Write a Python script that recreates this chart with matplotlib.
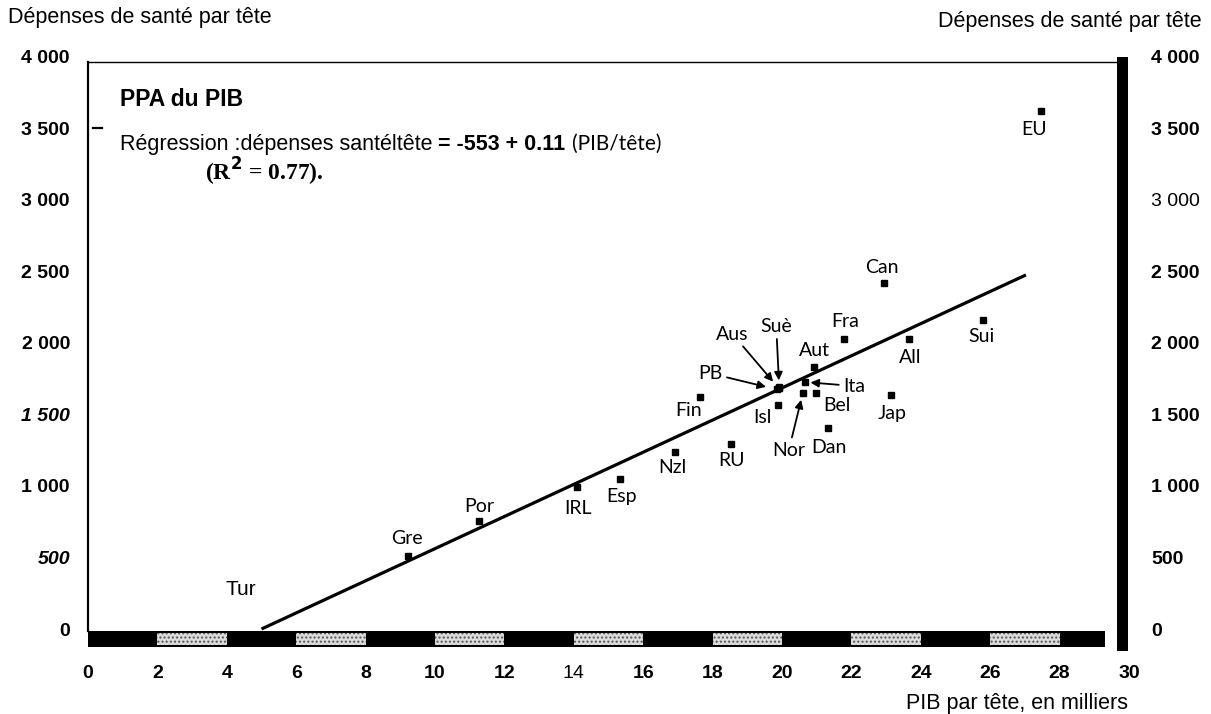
import matplotlib
matplotlib.use("Agg")
import matplotlib.pyplot as plt
from matplotlib.patches import Rectangle

# --- données (PIB en milliers, dépenses par tête) ---
countries = ["EU", "Can", "Sui", "All", "Fra", "Aut", "Ita", "Bel", "Nor", "Dan",
             "Jap", "Isl", "Fin", "PB", "Aus", "Suè", "RU", "Nzl", "Esp", "IRL",
             "Por", "Gre"]
pib = [27.45, 22.94, 25.79, 23.66, 21.79, 20.92, 20.66, 20.98, 20.60, 21.33,
       23.14, 19.88, 17.64, 19.85, 19.90, 19.92, 18.53, 16.92, 15.33, 14.09,
       11.27, 9.22]
depenses = [3622, 2420, 2161, 2028, 2028, 1832, 1727, 1650, 1650, 1406,
            1636, 1566, 1622, 1675, 1685, 1690, 1294, 1238, 1049, 993,
            755, 510]

# droite de régression (extrémités lues)
reg_pib = [5.0, 27.03]
reg_dep = [0, 2476]

x_ticks = list(range(0, 31, 2))
x_tick_labels = [str(v) for v in x_ticks]
y_ticks = [0, 500, 1000, 1500, 2000, 2500, 3000, 3500, 4000]
y_tick_labels = ["0", "500", "1 000", "1 500", "2 000", "2 500", "3 000", "3 500", "4 000"]

# segments pointillés de la barre du bas (début de chaque segment)
stipple_starts = [2, 6, 10, 14, 18, 22, 26]

# décalage des étiquettes (pixels, dx, dy vers le haut) et flèches
label_offsets = {
    "EU": (-6, -18), "Can": (-2, 15), "Sui": (-1, -17), "All": (1, -19),
    "Fra": (1, 17), "Aut": (1, 17), "Ita": (49, -4), "Bel": (21, -12),
    "Nor": (-14, -57), "Dan": (1, -20), "Jap": (1, -18), "Isl": (-15, -12),
    "Fin": (-12, -13), "PB": (-66, 16), "Aus": (-46, 54), "Suè": (-3, 61),
    "RU": (1, -17), "Nzl": (-3, -16), "Esp": (2, -18), "IRL": (1, -21),
    "Por": (0, 15), "Gre": (-1, 18),
}
arrow_labels = {"Ita": 4, "Nor": 5, "PB": 8, "Aus": 6, "Suè": 5}

W, H = 1211, 714
PX = 72 / 100  # pixels -> points


def fpos(x, y):
    return x / W, 1 - y / H


def main():
    fig = plt.figure(figsize=(W / 100, H / 100), dpi=100)
    ax = fig.add_axes([88 / W, (H - 629) / H, (1129 - 88) / W, (629 - 57) / H])
    ax.set_xlim(0, 30)
    ax.set_ylim(0, 4000)
    for s in ax.spines.values():
        s.set_visible(False)

    label_font = "Lato"
    sans = "Liberation Sans"

    # cadre
    ax.plot([0, 0], [-14, 3965], color="black", lw=1.6, clip_on=False)
    ax.plot([0, 29.65], [3965, 3965], color="black", lw=1.0, clip_on=False)
    ax.plot([0.15, 0.4], [3500, 3500], color="black", lw=1.6, clip_on=False)
    ax.add_patch(Rectangle((29.65, -154), 0.32, 4154, facecolor="black",
                           edgecolor="none", clip_on=False))

    # barre du bas
    ax.add_patch(Rectangle((0, -126), 29.3, 112, facecolor="black",
                           edgecolor="none", clip_on=False))
    for x0 in stipple_starts:
        ax.add_patch(Rectangle((x0, -110), 2, 84, facecolor="#dcdcdc",
                               edgecolor="#555555", hatch="....", lw=0,
                               clip_on=False))

    # régression
    ax.plot(reg_pib, reg_dep, color="black", lw=2.3, solid_capstyle="butt",
            clip_on=False)

    # points
    ax.plot(pib, depenses, "s", color="black", ms=5)

    for name, x, y in zip(countries, pib, depenses):
        dx, dy = label_offsets[name]
        kw = dict(xy=(x, y), xytext=(dx * PX, dy * PX), textcoords="offset points",
                  ha="center", va="center", fontsize=14, family=label_font)
        if name in arrow_labels:
            kw["arrowprops"] = dict(arrowstyle="-|>", color="black", lw=1.3,
                                    mutation_scale=12, shrinkA=1,
                                    shrinkB=arrow_labels[name])
        ax.annotate(name, **kw)

    ax.text(4.4, 273, "Tur", ha="center", va="center", fontsize=15, family=sans)

    # axes
    ax.set_xticks(x_ticks)
    ax.set_xticklabels(x_tick_labels)
    ax.set_yticks(y_ticks)
    ax.set_yticklabels(y_tick_labels)
    ax.tick_params(axis="x", length=0, pad=26, labelsize=14)
    ax.tick_params(axis="y", length=0, pad=13, labelsize=14)
    for lab in ax.get_xticklabels():
        lab.set_family(sans)
        lab.set_weight("normal" if lab.get_text() == "14" else "bold")
    for lab in ax.get_yticklabels():
        lab.set_family(sans)
        lab.set_weight("bold")
        if lab.get_text() in ("500", "1 500"):
            lab.set_style("italic")

    ax2 = ax.twinx()
    ax2.set_ylim(0, 4000)
    for s in ax2.spines.values():
        s.set_visible(False)
    ax2.set_yticks(y_ticks)
    ax2.set_yticklabels(y_tick_labels)
    ax2.tick_params(axis="y", length=0, pad=16, labelsize=14)
    for lab in ax2.get_yticklabels():
        lab.set_family(sans)
        lab.set_weight("normal" if lab.get_text() == "3 000" else "bold")

    # textes
    fig.text(*fpos(8, 18), "Dépenses de santé par tête", ha="left", va="center",
             fontsize=15.5, family=sans)
    fig.text(*fpos(1202, 22), "Dépenses de santé par tête", ha="right", va="center",
             fontsize=15.5, family=sans)
    fig.text(*fpos(120, 100), "PPA du PIB", ha="left", va="center",
             fontsize=16.5, weight="bold", family=sans)

    base_y = fpos(0, 150)[1]
    t1 = fig.text(120 / W, base_y, "Régression :dépenses santéltête ", ha="left",
                  va="baseline", fontsize=15.5, family=sans)
    t2 = fig.text(0, base_y, "= -553 + 0.11 ", ha="left", va="baseline",
                  fontsize=15.5, weight="bold", family=sans)
    t3 = fig.text(0, base_y, "(PIB/tête)", ha="left", va="baseline",
                  fontsize=15, family=label_font)
    fig.canvas.draw()
    r = fig.canvas.get_renderer()
    b1 = t1.get_window_extent(r)
    t2.set_position((b1.x1 / W, base_y))
    fig.canvas.draw()
    b2 = t2.get_window_extent(r)
    t3.set_position((b2.x1 / W, base_y))

    fig.text(*fpos(205, 172), r"(R$^\mathbf{2}$ = 0.77).", ha="left", va="center",
             fontsize=17, weight="bold", family="Liberation Serif")

    fig.text(*fpos(1128, 703), "PIB par tête, en milliers", ha="right", va="center",
             fontsize=15.5, family=sans)

    fig.savefig("out.png", dpi=100)
    plt.close(fig)


if __name__ == "__main__":
    main()
